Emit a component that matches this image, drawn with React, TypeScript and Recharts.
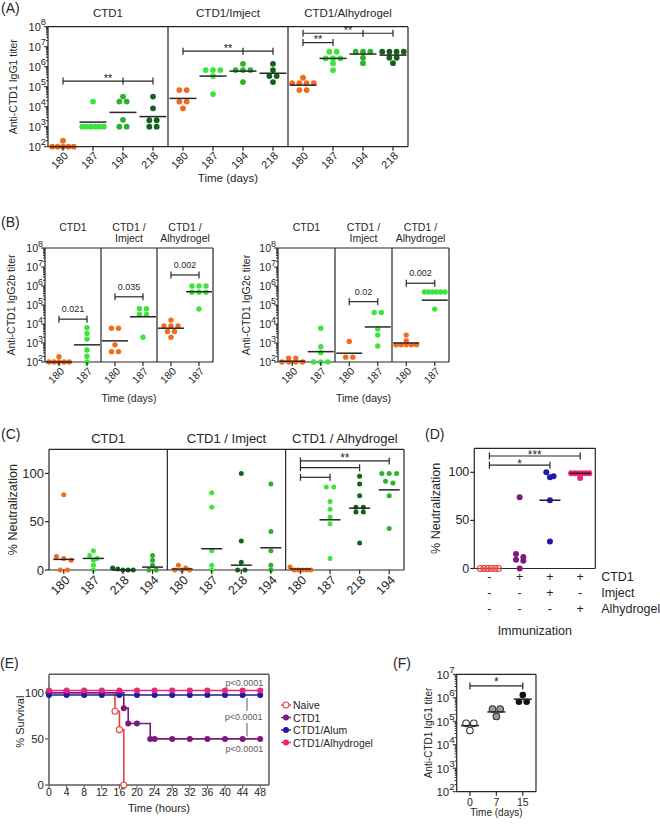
import React from 'react';
import { ScatterChart, Scatter, LineChart, Line, XAxis, YAxis, ReferenceLine, ReferenceDot } from 'recharts';

const FONT = '"Liberation Sans", Arial, Helvetica, sans-serif';
const INK = '#262626';
const GRAYF = '#5a5a5a';
const ORANGE = '#f26a1b';
const LIGHT = '#3ce43c';
const MID = '#2ab22a';
const DARK = '#13611a';
const RED = '#e8413c';
const PURPLE = '#7a1a7f';
const BLUE = '#1c1ca6';
const PINK = '#e8267c';

// ---------------- Panel A ----------------
const A_GROUPS = ['CTD1', 'CTD1/Imject', 'CTD1/Alhydrogel'];
const A_DAYS = ['180', '187', '194', '218'];
const A_YTICKS = [1e2, 1e3, 1e4, 1e5, 1e6, 1e7, 1e8];
const A_CTD1 = [
  [100, 100, 200, 100, 100, 100],
  [18000, 1000, 1000, 1000, 1000, 1000, 1000],
  [18000, 18000, 32000, 2200, 1000, 1000],
  [32000, 8300, 2100, 2100, 1000, 1000],
];
const A_CTD1_MED = [100, 1700, 5200, 3200];
const A_IMJ = [
  [68000, 68000, 18000, 18000, 8300],
  [680000, 680000, 680000, 340000, 43000],
  [1400000, 680000, 680000, 680000, 170000],
  [1400000, 680000, 340000, 340000, 170000],
];
const A_IMJ_MED = [26000, 340000, 600000, 470000];
const A_ALH = [
  [150000, 150000, 150000, 150000, 280000, 68000, 68000],
  [5600000, 5600000, 2600000, 2600000, 2600000, 1500000, 680000],
  [5600000, 5600000, 5600000, 2800000, 1500000],
  [5600000, 5600000, 5600000, 5600000, 2800000, 2800000, 1500000],
];
const A_ALH_MED = [120000, 2600000, 4300000, 3800000];

// ---------------- Panel B ----------------
const B_DAYS = ['180', '187'];
const B_TITLES = [['CTD1'], ['CTD1 /', 'Imject'], ['CTD1 /', 'Alhydrogel']];
const BL_CTD1 = [[100, 100, 100, 190, 100, 100], [6300, 3200, 1600, 430, 200, 100]];
const BL_CTD1_MED = [100, 800];
const BL_IMJ = [[6000, 6000, 800, 350, 350], [64000, 64000, 32000, 32000, 2000]];
const BL_IMJ_MED = [1300, 24000];
const BL_ALH = [[16000, 8000, 8000, 8000, 4000, 2000, 4000], [1000000, 1000000, 1000000, 470000, 470000, 470000, 62000]];
const BL_ALH_MED = [6000, 500000];
const BR_CTD1 = [[100, 100, 100, 160, 100, 160], [6000, 630, 310, 100, 100, 100]];
const BR_CTD1_MED = [110, 350];
const BR_IMJ = [[1200, 180, 180], [40000, 40000, 5500, 2600, 700]];
const BR_IMJ_MED = [290, 7000];
const BR_ALH = [[2600, 1300, 800, 800, 800, 800, 800], [480000, 480000, 480000, 480000, 480000, 480000, 61000]];
const BR_ALH_MED = [1000, 180000];

// ---------------- Panel C ----------------
const C_GROUPS = ['CTD1', 'CTD1 / Imject', 'CTD1 / Alhydrogel'];
const C_DAYS = ['180', '187', '218', '194'];
const C_YTICKS = [0, 50, 100];
const C_CTD1 = [[78, 14, 12, 10, 0, 0], [20, 15, 12, 10, 5, 0], [2, 1, 0, 0, 0], [15, 10, 5, 0, 0]];
const C_CTD1_MED = [11, 12, 0, 3];
const C_IMJ = [[5, 2, 0, 0, 0], [80, 65, 20, 5, 0], [100, 30, 8, 0, 0], [89, 40, 20, 5, 0]];
const C_IMJ_MED = [1, 22, 5, 23];
const C_ALH = [[3, 0, 0, 0, 0, 0], [86, 86, 71, 63, 55, 48, 12], [97, 89, 77, 65, 65, 60, 60, 28], [100, 100, 100, 92, 90, 77, 43]];
const C_ALH_MED = [1, 52, 64, 83];

// ---------------- Panel D ----------------
const D_NAIVE = [0, 0, 0, 0, 0, 0];
const D_CTD1 = [74, 15, 12, 9, 8, 0];
const D_IMJ = [100, 96, 95, 71, 28];
const D_ALH = [99, 99, 99, 99, 99, 99, 94];
const D_MED = [0, null, 71, 99];
const D_ROW_NAMES = ['CTD1', 'Imject', 'Alhydrogel'];
const D_ROWS = [['-', '+', '+', '+'], ['-', '-', '+', '-'], ['-', '-', '-', '+']];

// ---------------- Panel E ----------------
const E_XTICKS = [0, 4, 8, 12, 16, 20, 24, 28, 32, 36, 40, 44, 48];
const E_YTICKS = [0, 50, 100];
const E_NAIVE_T = [0, 4, 8, 12, 15, 16, 17];
const E_NAIVE_S = [100, 100, 100, 100, 80, 60, 0];
const E_CTD1_T = [0, 4, 8, 12, 16, 17, 18, 20, 23, 24, 28, 32, 36, 40, 44, 48];
const E_CTD1_S = [100, 100, 100, 100, 100, 83.3, 66.7, 66.7, 50, 50, 50, 50, 50, 50, 50, 50];
const E_ALUM_T = [0, 4, 8, 12, 16, 20, 24, 28, 32, 36, 40, 44, 48];
const E_ALUM_S = [97.5, 97.5, 97.5, 97.5, 97.5, 97.5, 97.5, 97.5, 97.5, 97.5, 97.5, 97.5, 97.5];
const E_ALHY_T = [0, 4, 8, 12, 16, 20, 24, 28, 32, 36, 40, 44, 48];
const E_ALHY_S = [102.5, 102.5, 102.5, 102.5, 102.5, 102.5, 102.5, 102.5, 102.5, 102.5, 102.5, 102.5, 102.5];
const E_SERIES = ['Naive', 'CTD1', 'CTD1/Alum', 'CTD1/Alhydrogel'];
const E_COLORS = [RED, PURPLE, BLUE, PINK];
const E_P = 'p<0.0001';

// ---------------- Panel F ----------------
const F_DAYS = ['0', '7', '15'];
const F_YTICKS = [1e2, 1e3, 1e4, 1e5, 1e6, 1e7];
const F_VALUES = [[82000, 82000, 40000], [330000, 330000, 160000], [1300000, 680000, 680000]];
const F_MED = [65000, 250000, 870000];

// ---------------- helpers ----------------
type Sig = { from: number; to: number; y: number; label?: string; mids?: number[] };

function withMinor(major: number[]) {
  const out: number[] = [];
  major.forEach((m, i) => {
    out.push(m);
    if (i < major.length - 1) for (let k = 2; k < 10; k++) out.push(m * k);
  });
  return out;
}

function swarm(values: number[], center: number, log: boolean, thresh: number, step: number, maxSpan: number) {
  const t = (v: number) => (log ? Math.log10(v) : v);
  const sorted = [...values].sort((a, b) => b - a);
  const clusters: number[][] = [];
  for (const v of sorted) {
    const last = clusters[clusters.length - 1];
    if (last && Math.abs(t(last[0]) - t(v)) <= thresh + 1e-9) last.push(v);
    else clusters.push([v]);
  }
  const pts: { x: number; y: number }[] = [];
  for (const c of clusters) {
    const st = c.length > 1 ? Math.min(step, maxSpan / (c.length - 1)) : 0;
    c.forEach((v, k) => pts.push({ x: center + (k - (c.length - 1) / 2) * st, y: v }));
  }
  return pts;
}

const dotShape = (r: number, fill: string, stroke: string) => (p: any) => (
  <circle cx={p.cx} cy={p.cy} r={r} fill={fill} stroke={stroke} strokeWidth={stroke === 'none' ? 0 : 1.1} />
);
const medShape = (half: number, color: string) => (p: any) => (
  <line x1={p.cx - half} x2={p.cx + half} y1={p.cy} y2={p.cy} stroke={color} strokeWidth={1.5} />
);
const sigShape = (label: string | undefined, fs: number, dy: number) => (p: any) => (
  <g>
    <line x1={p.x1} y1={p.y1} x2={p.x2} y2={p.y2} stroke={INK} strokeWidth={1.2} />
    <line x1={p.x1} x2={p.x1} y1={p.y1 - 3.5} y2={p.y1 + 3.5} stroke={INK} strokeWidth={1.2} />
    <line x1={p.x2} x2={p.x2} y1={p.y2 - 3.5} y2={p.y2 + 3.5} stroke={INK} strokeWidth={1.2} />
    {label ? (
      <text x={(p.x1 + p.x2) / 2} y={p.y1 + dy} textAnchor="middle" fontSize={fs} fill={INK}>
        {label}
      </text>
    ) : null}
  </g>
);
const midTick = (p: any) => (
  <line x1={p.cx} x2={p.cx} y1={p.cy - 3.5} y2={p.cy + 3.5} stroke={INK} strokeWidth={1.2} />
);

const logTick = (fs: number) => (p: any) => {
  const v = p.payload.value;
  const lg = Math.log10(v);
  const e = Math.round(lg);
  const major = Math.abs(lg - e) < 1e-6;
  return (
    <g>
      <line x1={p.x} x2={p.x - (major ? 4 : 2)} y1={p.y} y2={p.y} stroke={INK} strokeWidth={1} />
      {major ? (
        <text x={p.x - 2} y={p.y + fs * 0.38} textAnchor="end" fontSize={fs} fill={INK}>
          10
          <tspan dy={-fs * 0.5} fontSize={fs * 0.85}>
            {e}
          </tspan>
        </text>
      ) : null}
    </g>
  );
};
const linTick = (fs: number, lineColor: string) => (p: any) => (
  <g>
    <line x1={p.x} x2={p.x - 4} y1={p.y} y2={p.y} stroke={lineColor} strokeWidth={1.2} />
    <text x={p.x - 5} y={p.y} dominantBaseline="central" textAnchor="end" fontSize={fs} fill={INK}>
      {p.payload.value}
    </text>
  </g>
);

type DotCfg = {
  left: number; top: number; width: number; height: number;
  mTop: number; mRight: number; yw: number; topH: number; botH: number;
  log: boolean; yDomain: [number, number]; yTicks: number[];
  cats: string[]; fills: string[]; strokes: string[];
  values: number[][]; medians: (number | null)[]; medColors: string[];
  titles?: string[][]; groupSize?: number; titleFs?: number; titleDy?: number[];
  sigs: Sig[]; sigFs: number; sigDy: number;
  fs: number; xfs: number; r: number; step: number; maxSpan: number; thresh: number; medHalf: number;
  yLabel: string; yLabelX: number; yLabelFs: number;
  xLabel?: string; xLabelDy?: number; xLabelFs?: number;
  tickKind: 'rot' | 'plain' | 'table'; rotDx?: number; rotDy?: number;
};

function DotPanel({ c }: { c: DotCfg }) {
  const n = c.cats.length;
  const xMax = n - 0.5;
  const plotTop = c.mTop + c.topH;
  const plotBottom = c.height - c.botH;
  const plotMidY = (plotTop + plotBottom) / 2;
  const plotLeft = c.yw;
  const plotRight = c.width - c.mRight;
  const gs = c.groupSize ?? n;
  const nGroups = Math.round(n / gs);
  const groupCenters = Array.from({ length: nGroups }, (_, g) => g * gs + (gs - 1) / 2);
  const dividers = Array.from({ length: nGroups - 1 }, (_, g) => (g + 1) * gs - 0.5);
  const idx = Array.from({ length: n }, (_, i) => i);

  const titleShape = (lines: string[]) => (p: any) => {
    const dys = c.titleDy || [-10];
    return (
      <text textAnchor="middle" fontSize={c.titleFs} fill={INK}>
        {lines.map((l, k) => (
          <tspan key={k} x={p.cx} y={p.cy + (lines.length === 1 ? dys[0] : dys[k])}>
            {l}
          </tspan>
        ))}
      </text>
    );
  };

  const catTick = (p: any) => {
    const i = Math.round(p.payload.value);
    if (c.tickKind === 'rot') {
      const ax = p.x + (c.rotDx ?? 3);
      const ay = p.y + (c.rotDy ?? 7);
      return (
        <g>
          <line x1={p.x} x2={p.x} y1={p.y} y2={p.y + 4} stroke={INK} strokeWidth={1.2} />
          <text x={ax} y={ay} transform={`rotate(-45 ${ax} ${ay})`} textAnchor="end" dominantBaseline="central" fontSize={c.xfs} fill={INK}>
            {c.cats[i]}
          </text>
        </g>
      );
    }
    if (c.tickKind === 'plain') {
      return (
        <g>
          <line x1={p.x} x2={p.x} y1={p.y} y2={p.y + 4} stroke={INK} strokeWidth={1.2} />
          <text x={p.x} y={p.y + 10} textAnchor="middle" dominantBaseline="central" fontSize={c.xfs} fill={INK}>
            {c.cats[i]}
          </text>
        </g>
      );
    }
    const rowDy = [8.5, 24.8, 40.8];
    return (
      <g>
        {D_ROWS.map((row, k) => (
          <text key={k} x={p.x} y={p.y + rowDy[k]} textAnchor="middle" dominantBaseline="central" fontSize={c.xfs} fill={INK}>
            {row[i]}
          </text>
        ))}
        {i === n - 1
          ? D_ROW_NAMES.map((nm, k) => (
              <text key={'n' + k} x={p.x + 21} y={p.y + rowDy[k]} textAnchor="start" dominantBaseline="central" fontSize={c.xfs} fill={INK}>
                {nm}
              </text>
            ))
          : null}
      </g>
    );
  };

  const yLabelFn = () => (
    <text transform={`translate(${c.yLabelX},${plotMidY}) rotate(-90)`} textAnchor="middle" dominantBaseline="central" fontSize={c.yLabelFs} fill={INK}>
      {c.yLabel}
    </text>
  );
  const xLabelFn = c.xLabel
    ? () => (
        <text x={(plotLeft + plotRight) / 2} y={plotBottom + (c.xLabelDy ?? 30)} textAnchor="middle" dominantBaseline="central" fontSize={c.xLabelFs} fill={INK}>
          {c.xLabel}
        </text>
      )
    : undefined;

  return (
    <div style={{ position: 'absolute', left: c.left, top: c.top }}>
      <ScatterChart width={c.width} height={c.height} margin={{ top: plotTop, right: c.mRight, bottom: 0, left: 0 }}>
        <XAxis type="number" dataKey="x" domain={[-0.5, xMax]} ticks={idx} interval={0} height={c.botH} axisLine={{ stroke: INK, strokeWidth: 1.2 }} tickLine={false} tickSize={0} tickMargin={0} tick={catTick} label={xLabelFn} />
        <YAxis type="number" dataKey="y" scale={c.log ? 'log' : 'linear'} domain={c.yDomain} ticks={c.yTicks} interval={0} width={c.yw} axisLine={{ stroke: INK, strokeWidth: 1.2 }} tickLine={false} tickSize={0} tickMargin={0} tick={c.log ? logTick(c.fs) : linTick(c.fs, INK)} label={yLabelFn} />
        <ReferenceLine y={c.yDomain[1]} stroke={INK} strokeWidth={1.2} ifOverflow="visible" />
        <ReferenceLine x={xMax} stroke={INK} strokeWidth={1.2} ifOverflow="visible" />
        {dividers.map((d) => (
          <ReferenceLine key={'d' + d} x={d} stroke={INK} strokeWidth={1.2} ifOverflow="visible" />
        ))}
        {c.titles
          ? groupCenters.map((gc, g) => (
              <ReferenceDot key={'ti' + g} x={gc} y={c.yDomain[1]} r={0} shape={titleShape(c.titles![g])} ifOverflow="visible" />
            ))
          : null}
        {c.values.map((vals, i) => (
          <Scatter key={'s' + i} data={swarm(vals, i, c.log, c.thresh, c.step, c.maxSpan)} shape={dotShape(c.r, c.fills[i], c.strokes[i])} isAnimationActive={false} />
        ))}
        {c.medians.map((m, i) =>
          m == null ? null : (
            <Scatter key={'m' + i} data={[{ x: i, y: m }]} shape={medShape(c.medHalf, c.medColors[i])} isAnimationActive={false} />
          )
        )}
        {c.sigs.map((s, k) => (
          <ReferenceLine key={'g' + k} segment={[{ x: s.from, y: s.y }, { x: s.to, y: s.y }]} shape={sigShape(s.label, c.sigFs, c.sigDy)} ifOverflow="visible" />
        ))}
        {c.sigs.flatMap((s, k) =>
          (s.mids || []).map((mx) => <ReferenceDot key={'t' + k + '-' + mx} x={mx} y={s.y} r={0} shape={midTick} ifOverflow="visible" />)
        )}
      </ScatterChart>
    </div>
  );
}

const rep = <T,>(arr: T[], times: number) => Array.from({ length: times }, () => arr).flat();

const cfgA: DotCfg = {
  left: 0, top: 0, width: 420, height: 190, mTop: 0, mRight: 12, yw: 48, topH: 26.7, botH: 43.3,
  log: true, yDomain: [1e2, 1e8], yTicks: withMinor(A_YTICKS),
  cats: rep(A_DAYS, 3), fills: rep([ORANGE, LIGHT, MID, DARK], 3), strokes: rep(['none'], 12),
  values: [...A_CTD1, ...A_IMJ, ...A_ALH], medians: [...A_CTD1_MED, ...A_IMJ_MED, ...A_ALH_MED], medColors: rep([INK], 12),
  titles: A_GROUPS.map((g) => [g]), groupSize: 4, titleFs: 11.5, titleDy: [-10],
  sigs: [
    { from: 0, to: 3, y: 1.9e5, label: '**', mids: [2] },
    { from: 4, to: 7, y: 6e6, label: '**', mids: [6] },
    { from: 8, to: 11, y: 4.7e7, label: '**', mids: [10] },
    { from: 8, to: 9, y: 1.6e7, label: '**' },
  ],
  sigFs: 11, sigDy: 0.5, fs: 11, xfs: 11, r: 2.9, step: 0.245, maxSpan: 0.72, thresh: 0.2, medHalf: 13.5,
  yLabel: 'Anti-CTD1 IgG1 titer', yLabelX: 13, yLabelFs: 10.5,
  xLabel: 'Time (days)', xLabelDy: 31.3, xLabelFs: 11.5, tickKind: 'rot', rotDx: 3, rotDy: 7,
};

const cfgBL: DotCfg = {
  left: 0, top: 208, width: 220, height: 200, mTop: 0, mRight: 7, yw: 45, topH: 40, botH: 46,
  log: true, yDomain: [1e2, 1e8], yTicks: withMinor(A_YTICKS),
  cats: rep(B_DAYS, 3), fills: rep([ORANGE, LIGHT], 3), strokes: rep(['none'], 6),
  values: [...BL_CTD1, ...BL_IMJ, ...BL_ALH], medians: [...BL_CTD1_MED, ...BL_IMJ_MED, ...BL_ALH_MED], medColors: rep([INK], 6),
  titles: B_TITLES, groupSize: 2, titleFs: 10.5, titleDy: [-17.5, -6],
  sigs: [
    { from: 0, to: 1, y: 1.8e4, label: '0.021' },
    { from: 2, to: 3, y: 2.7e5, label: '0.035' },
    { from: 4, to: 5, y: 3.8e6, label: '0.002' },
  ],
  sigFs: 9, sigDy: -7, fs: 10.5, xfs: 10.5, r: 2.7, step: 0.25, maxSpan: 0.72, thresh: 0.18, medHalf: 13,
  yLabel: 'Anti-CTD1 IgG2b titer', yLabelX: 11, yLabelFs: 10.5,
  xLabel: 'Time (days)', xLabelDy: 36, xLabelFs: 10.5, tickKind: 'rot', rotDx: 3, rotDy: 7,
};

const cfgBR: DotCfg = {
  ...cfgBL,
  left: 225, width: 230, mRight: 6, yw: 53,
  values: [...BR_CTD1, ...BR_IMJ, ...BR_ALH], medians: [...BR_CTD1_MED, ...BR_IMJ_MED, ...BR_ALH_MED],
  sigs: [
    { from: 2, to: 3, y: 1.5e5, label: '0.02' },
    { from: 4, to: 5, y: 1.4e6, label: '0.002' },
  ],
  yLabel: 'Anti-CTD1 IgG2c titer', yLabelX: 21,
};

const cfgC: DotCfg = {
  left: 0, top: 424, width: 410, height: 180, mTop: 0, mRight: 6, yw: 49, topH: 25.3, botH: 34,
  log: false, yDomain: [0, 125], yTicks: C_YTICKS,
  cats: rep(C_DAYS, 3), fills: rep([ORANGE, LIGHT, DARK, MID], 3), strokes: rep(['none'], 12),
  values: [...C_CTD1, ...C_IMJ, ...C_ALH], medians: [...C_CTD1_MED, ...C_IMJ_MED, ...C_ALH_MED], medColors: rep([INK], 12),
  titles: C_GROUPS.map((g) => [g]), groupSize: 4, titleFs: 13, titleDy: [-6.6],
  sigs: [
    { from: 8, to: 11, y: 113, label: '**' },
    { from: 8, to: 10, y: 106 },
    { from: 8, to: 9, y: 96 },
  ],
  sigFs: 12, sigDy: 1, fs: 13, xfs: 12.5, r: 2.5, step: 0.25, maxSpan: 0.7, thresh: 4, medHalf: 10.5,
  yLabel: '% Neutralization', yLabelX: 12.5, yLabelFs: 12.5, tickKind: 'rot', rotDx: 4, rotDy: 8,
};

const cfgD: DotCfg = {
  left: 425, top: 424, width: 235, height: 215, mTop: 24.3, mRight: 64.7, yw: 49.3, topH: 0, botH: 70.5,
  log: false, yDomain: [0, 125], yTicks: C_YTICKS,
  cats: ['', '', '', ''], fills: ['none', PURPLE, BLUE, PINK], strokes: [RED, 'none', 'none', 'none'],
  values: [D_NAIVE, D_CTD1, D_IMJ, D_ALH], medians: D_MED, medColors: [RED, INK, '#1a1a40', '#3a1020'],
  sigs: [
    { from: 0, to: 3, y: 117, label: '***' },
    { from: 0, to: 2, y: 107.5, label: '*' },
  ],
  sigFs: 12, sigDy: 3, fs: 12.5, xfs: 12.5, r: 3, step: 0.24, maxSpan: 0.6, thresh: 4, medHalf: 10.5,
  yLabel: '% Neutralization', yLabelX: 11, yLabelFs: 12.5,
  xLabel: 'Immunization', xLabelDy: 62.2, xLabelFs: 12.5, tickKind: 'table',
};

const cfgF: DotCfg = {
  left: 415, top: 655, width: 130, height: 170, mTop: 19.3, mRight: 9, yw: 41.7, topH: 0, botH: 33.3,
  log: true, yDomain: [1e2, 1e7], yTicks: withMinor(F_YTICKS),
  cats: F_DAYS, fills: ['#ffffff', '#9b9b9b', '#111111'], strokes: ['#333333', '#333333', 'none'],
  values: F_VALUES, medians: F_MED, medColors: [INK, INK, INK],
  sigs: [{ from: 0, to: 2, y: 3.2e6, label: '*' }],
  sigFs: 12, sigDy: 0, fs: 11.5, xfs: 10.5, r: 3.3, step: 0.29, maxSpan: 0.7, thresh: 0.2, medHalf: 9,
  yLabel: 'Anti-CTD1 IgG1 titer', yLabelX: 13, yLabelFs: 10,
  xLabel: 'Time (days)', xLabelDy: 20.3, xLabelFs: 10, tickKind: 'plain',
};

function SurvivalPanel() {
  const mk = (ts: number[], ss: number[]) => ts.map((t, i) => ({ t, s: ss[i] }));
  const series = [mk(E_NAIVE_T, E_NAIVE_S), mk(E_CTD1_T, E_CTD1_S), mk(E_ALUM_T, E_ALUM_S), mk(E_ALHY_T, E_ALHY_S)];
  const W = 420, H = 165, mTop = 19.3, yw = 49, plotW = 220, botH = 35;
  const plotBottom = H - botH;
  const plotMid = (mTop + plotBottom) / 2;
  const lastT = E_ALHY_T[E_ALHY_T.length - 1];
  const pTop = (p: any) => (
    <text x={p.cx + 3} y={p.cy - 7.5} textAnchor="end" dominantBaseline="central" fontSize={9} fill={GRAYF}>{E_P}</text>
  );
  const pBot = (p: any) => (
    <text x={p.cx + 3} y={p.cy + 10.3} textAnchor="end" dominantBaseline="central" fontSize={9} fill={GRAYF}>{E_P}</text>
  );
  const bracket = (p: any) => {
    const m = (p.y1 + p.y2) / 2;
    return (
      <g>
        <line x1={p.x1} x2={p.x1} y1={p.y1 + 3} y2={m - 6} stroke={GRAYF} strokeWidth={1} />
        <line x1={p.x1} x2={p.x1} y1={m + 6} y2={p.y2 - 2.5} stroke={GRAYF} strokeWidth={1} />
        <text x={p.x1 + 15.5} y={m} textAnchor="end" dominantBaseline="central" fontSize={9} fill={GRAYF}>{E_P}</text>
      </g>
    );
  };
  const dotFn = (color: string, open: boolean) => (p: any) => (
    <circle key={'e' + p.index} cx={p.cx} cy={p.cy} r={3} fill={open ? '#ffffff' : color} stroke={color} strokeWidth={open ? 1.1 : 0} />
  );
  return (
    <div style={{ position: 'absolute', left: 0, top: 655 }}>
      <LineChart width={W} height={H} margin={{ top: mTop, right: W - yw - plotW, bottom: 0, left: 0 }}>
        <XAxis type="number" dataKey="t" domain={[0, 50]} ticks={E_XTICKS} interval={0} height={botH}
          axisLine={{ stroke: GRAYF, strokeWidth: 1.5 }} tickLine={{ stroke: GRAYF }} tickSize={4} tickMargin={0}
          tick={{ fontSize: 10.5, fill: INK }}
          label={() => (
            <text x={yw + plotW / 2} y={plotBottom + 23} textAnchor="middle" dominantBaseline="central" fontSize={11} fill={INK}>Time (hours)</text>
          )} />
        <YAxis type="number" domain={[0, 120]} ticks={E_YTICKS} interval={0} width={yw}
          axisLine={{ stroke: GRAYF, strokeWidth: 1.5 }} tickLine={false} tickSize={0} tickMargin={0}
          tick={linTick(11.5, GRAYF)}
          label={() => (
            <text transform={`translate(20,${plotMid - 8}) rotate(-90)`} textAnchor="middle" dominantBaseline="central" fontSize={11} fill={INK}>% Survival</text>
          )} />
        <ReferenceLine y={120} stroke={GRAYF} strokeWidth={1.5} ifOverflow="visible" />
        <ReferenceLine x={50} stroke={GRAYF} strokeWidth={1.5} ifOverflow="visible" />
        {series.map((d, i) => (
          <Line key={'l' + i} data={d} dataKey="s" type="stepAfter" stroke={E_COLORS[i]} strokeWidth={1.6}
            dot={dotFn(E_COLORS[i], i === 0)} activeDot={false} isAnimationActive={false} />
        ))}
        <ReferenceDot x={lastT} y={E_ALHY_S[E_ALHY_S.length - 1]} r={0} shape={pTop} ifOverflow="visible" />
        <ReferenceLine segment={[{ x: 45, y: E_ALUM_S[0] }, { x: 45, y: E_CTD1_S[E_CTD1_S.length - 1] }]} shape={bracket} ifOverflow="visible" />
        <ReferenceDot x={lastT} y={E_CTD1_S[E_CTD1_S.length - 1]} r={0} shape={pBot} ifOverflow="visible" />
      </LineChart>
      <svg style={{ position: 'absolute', left: 278, top: 42 }} width={140} height={56}>
        {E_SERIES.map((nm, i) => {
          const y = 8 + i * 12.5;
          return (
            <g key={nm}>
              <line x1={3} x2={13} y1={y} y2={y} stroke={E_COLORS[i]} strokeWidth={1.4} />
              <circle cx={8} cy={y} r={3} fill={i === 0 ? '#ffffff' : E_COLORS[i]} stroke={E_COLORS[i]} strokeWidth={i === 0 ? 1.1 : 0} />
              <text x={15} y={y} dominantBaseline="central" fontSize={10.5} fill={INK}>{nm}</text>
            </g>
          );
        })}
      </svg>
    </div>
  );
}

const LETTERS: [string, number, number][] = [
  ['(A)', 1, 12.5], ['(B)', 1, 227], ['(C)', 1, 439], ['(D)', 425, 439], ['(E)', 0, 668], ['(F)', 393, 668],
];

export default function App() {
  return (
    <div style={{ position: 'absolute', left: 0, top: 0, width: 660, height: 828, background: '#fff', fontFamily: FONT, overflow: 'hidden' }}>
      <DotPanel c={cfgA} />
      <DotPanel c={cfgBL} />
      <DotPanel c={cfgBR} />
      <DotPanel c={cfgC} />
      <DotPanel c={cfgD} />
      <SurvivalPanel />
      <DotPanel c={cfgF} />
      <svg style={{ position: 'absolute', left: 0, top: 0, pointerEvents: 'none' }} width={660} height={828}>
        {LETTERS.map(([t, x, y]) => (
          <text key={t} x={x} y={y} fontSize={14} fill={INK} fontFamily={FONT}>{t}</text>
        ))}
      </svg>
    </div>
  );
}
